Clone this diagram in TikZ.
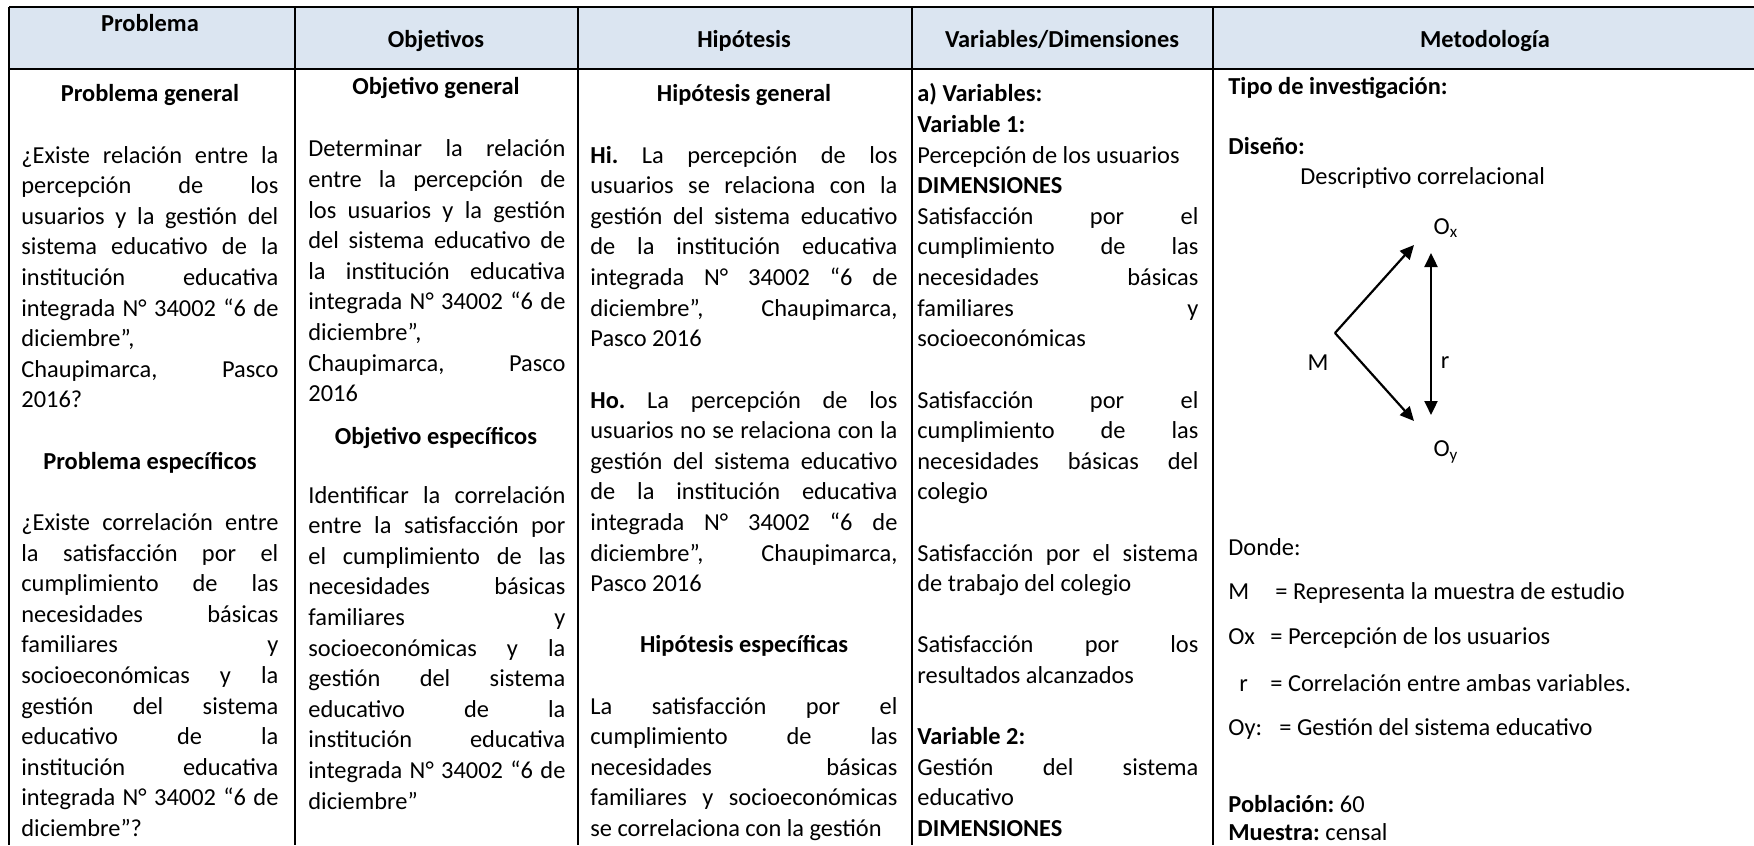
\documentclass[tikz,border=0pt]{standalone}
\usepackage{fontspec}
\setmainfont{Carlito}
\usetikzlibrary{arrows.meta}
\definecolor{hdrblue}{HTML}{DBE5F1}
\newcommand\tablefont{\fontsize{12.2}{15.3}\selectfont\frenchspacing\tolerance=10000\hbadness=10000\relax}
\tikzset{
  txt/.style={anchor=base west,inner sep=0pt,font=\tablefont},
  para/.style={txt,text width=#1,align=justify},
  hd/.style={anchor=base,inner sep=0pt,font=\tablefont\bfseries},
  lbl/.style={anchor=center,inner sep=0pt,font=\tablefont},
  border/.style={line width=0.75pt},
  corr/.style={line width=1.1pt,-{Triangle[length=7pt,width=6.5pt]}},
  corrboth/.style={line width=1.1pt,{Triangle[length=7pt,width=6.5pt]}-{Triangle[length=7pt,width=6.5pt]}},
}
\begin{document}
\begin{tikzpicture}[x=0.5pt,y=0.5pt,yscale=-1,xscale=1]
\path[use as bounding box,fill=white] (0,0) rectangle (1754,845);

%Shape: Rectangle
\fill[hdrblue] (9,7) rectangle (1754,69);
%Straight Lines
\draw[border] (9,7) -- (1754,7);
%Straight Lines
\draw[border] (9,69) -- (1754,69);
%Straight Lines
\draw[border] (9,7) -- (9,845);
%Straight Lines
\draw[border] (295,7) -- (295,845);
%Straight Lines
\draw[border] (578,7) -- (578,845);
%Straight Lines
\draw[border] (912,7) -- (912,845);
%Straight Lines
\draw[border] (1213,7) -- (1213,845);

% Text Node
\draw (150,32) node[hd] (hdProb) {Problema};
% Text Node
\draw (436,48) node[hd] (hdObj) {Objetivos};
% Text Node
\draw (744,48) node[hd] (hdHip) {Hipótesis};
% Text Node
\draw (1062,48) node[hd] (hdVar) {Variables/Dimensiones};
% Text Node
\draw (1485,48) node[hd] (hdMet) {Metodología};

% Text Node
\draw (150,102) node[hd] (probGen) {Problema general};
% Text Node
\draw (21,163.2) node[para=128.5pt] (probGenTxt) {¿Existe relación entre la\linebreak percepción de los\linebreak usuarios y la gestión del\linebreak sistema educativo de la\linebreak institución educativa\linebreak integrada N° 34002 “6 de\linebreak diciembre”,\linebreak Chaupimarca, Pasco\linebreak 2016?};
% Text Node
\draw (150,469.2) node[hd] (probEsp) {Problema específicos};
% Text Node
\draw (21,530.4) node[para=128.5pt] (probEspTxt) {¿Existe correlación entre\linebreak la satisfacción por el\linebreak cumplimiento de las\linebreak necesidades básicas\linebreak familiares y\linebreak socioeconómicas y la\linebreak gestión del sistema\linebreak educativo de la\linebreak institución educativa\linebreak integrada N° 34002 “6 de\linebreak diciembre”?};

% Text Node
\draw (436,95) node[hd] (objGen) {Objetivo general};
% Text Node
\draw (308,157) node[para=128.5pt] (objGenTxt) {Determinar la relación\linebreak entre la percepción de\linebreak los usuarios y la gestión\linebreak del sistema educativo de\linebreak la institución educativa\linebreak integrada N° 34002 “6 de\linebreak diciembre”,\linebreak Chaupimarca, Pasco\linebreak 2016};
% Text Node
\draw (436,444) node[hd] (objEsp) {Objetivo específicos};
% Text Node
\draw (308,503) node[para=128.5pt] (objEspTxt) {Identificar la correlación\linebreak entre la satisfacción por\linebreak el cumplimiento de las\linebreak necesidades básicas\linebreak familiares y\linebreak socioeconómicas y la\linebreak gestión del sistema\linebreak educativo de la\linebreak institución educativa\linebreak integrada N° 34002 “6 de\linebreak diciembre”};

% Text Node
\draw (744,102) node[hd] (hipGen) {Hipótesis general};
% Text Node
\draw (590,163.2) node[para=153.5pt] (hipHi) {\textbf{Hi.} La percepción de los\linebreak usuarios se relaciona con la\linebreak gestión del sistema educativo\linebreak de la institución educativa\linebreak integrada N° 34002 “6 de\linebreak diciembre”, Chaupimarca,\linebreak Pasco 2016};
% Text Node
\draw (590,408) node[para=153.5pt] (hipHo) {\textbf{Ho.} La percepción de los\linebreak usuarios no se relaciona con la\linebreak gestión del sistema educativo\linebreak de la institución educativa\linebreak integrada N° 34002 “6 de\linebreak diciembre”, Chaupimarca,\linebreak Pasco 2016};
% Text Node
\draw (744,652.8) node[hd] (hipEsp) {Hipótesis específicas};
% Text Node
\draw (590,714) node[para=153.5pt] (hipEspTxt) {\parfillskip=0pt La satisfacción por el\linebreak cumplimiento de las\linebreak necesidades básicas\linebreak familiares y socioeconómicas\linebreak se correlaciona con la gestión};

% Text Node
\draw (917,102) node[txt,font=\tablefont\bfseries] (varA) {a) Variables:};
% Text Node
\draw (917,132.6) node[txt,font=\tablefont\bfseries] (varUno) {Variable 1:};
% Text Node
\draw (917,163.2) node[txt] (varUnoTxt) {Percepción de los usuarios};
% Text Node
\draw (917,193.8) node[txt,font=\tablefont\bfseries] (dimUno) {DIMENSIONES};
% Text Node
\draw (917,224.4) node[para=140.5pt] (dimUnoA) {Satisfacción por el\linebreak cumplimiento de las\linebreak necesidades básicas\linebreak familiares y\linebreak socioeconómicas};
% Text Node
\draw (917,408) node[para=140.5pt] (dimUnoB) {Satisfacción por el\linebreak cumplimiento de las\linebreak necesidades básicas del\linebreak colegio};
% Text Node
\draw (917,561) node[para=140.5pt] (dimUnoC) {Satisfacción por el sistema\linebreak de trabajo del colegio};
% Text Node
\draw (917,652.8) node[para=140.5pt] (dimUnoD) {Satisfacción por los\linebreak resultados alcanzados};
% Text Node
\draw (917,744.6) node[txt,font=\tablefont\bfseries] (varDos) {Variable 2:};
% Text Node
\draw (917,775.2) node[para=140.5pt] (varDosTxt) {Gestión del sistema\linebreak educativo};
% Text Node
\draw (917,836.4) node[txt,font=\tablefont\bfseries] (dimDos) {DIMENSIONES};

% Text Node
\draw (1228,95) node[txt,font=\tablefont\bfseries] (tipoInv) {Tipo de investigación:};
% Text Node
\draw (1228,155) node[txt,font=\tablefont\bfseries] (disenio) {Diseño:};
% Text Node
\draw (1300,185) node[txt] (disenioTxt) {Descriptivo correlacional};

%Design scheme
\coordinate (mVert) at (1335,333);
\coordinate (oxTip) at (1414,245);
\coordinate (oyTip) at (1414,421);
\coordinate (rTop) at (1431,253);
\coordinate (rBot) at (1431,415);
\draw[corr] (mVert) -- (oxTip);
\draw[corr] (mVert) -- (oyTip);
\draw[corrboth] (rTop) -- (rBot);
% Text Node
\draw (1318,363) node[lbl] (lblM) {M};
% Text Node
\draw (1445,363) node[lbl] (lblR) {r};
% Text Node
\draw (1446,228) node[lbl] (lblOx) {O\textsubscript{x}};
% Text Node
\draw (1446,452) node[lbl] (lblOy) {O\textsubscript{y}};

% Text Node
\draw (1228,555) node[txt] (donde) {Donde:};
% Text Node
\draw (1228,599) node[txt] (legM) {M};
\draw (1275,599) node[txt] (legMTxt) {= Representa la muestra de estudio};
% Text Node
\draw (1228,644) node[txt] (legOx) {Ox};
\draw (1270,644) node[txt] (legOxTxt) {= Percepción de los usuarios};
% Text Node
\draw (1239,691) node[txt] (legR) {r};
\draw (1270,691) node[txt] (legRTxt) {= Correlación entre ambas variables.};
% Text Node
\draw (1228,735) node[txt] (legOy) {Oy:};
\draw (1279,735) node[txt] (legOyTxt) {= Gestión del sistema educativo};

% Text Node
\draw (1228,812) node[txt] (poblacion) {\textbf{Población:} 60};
% Text Node
\draw (1228,840) node[txt] (muestra) {\textbf{Muestra:} censal};

\end{tikzpicture}
\end{document}
